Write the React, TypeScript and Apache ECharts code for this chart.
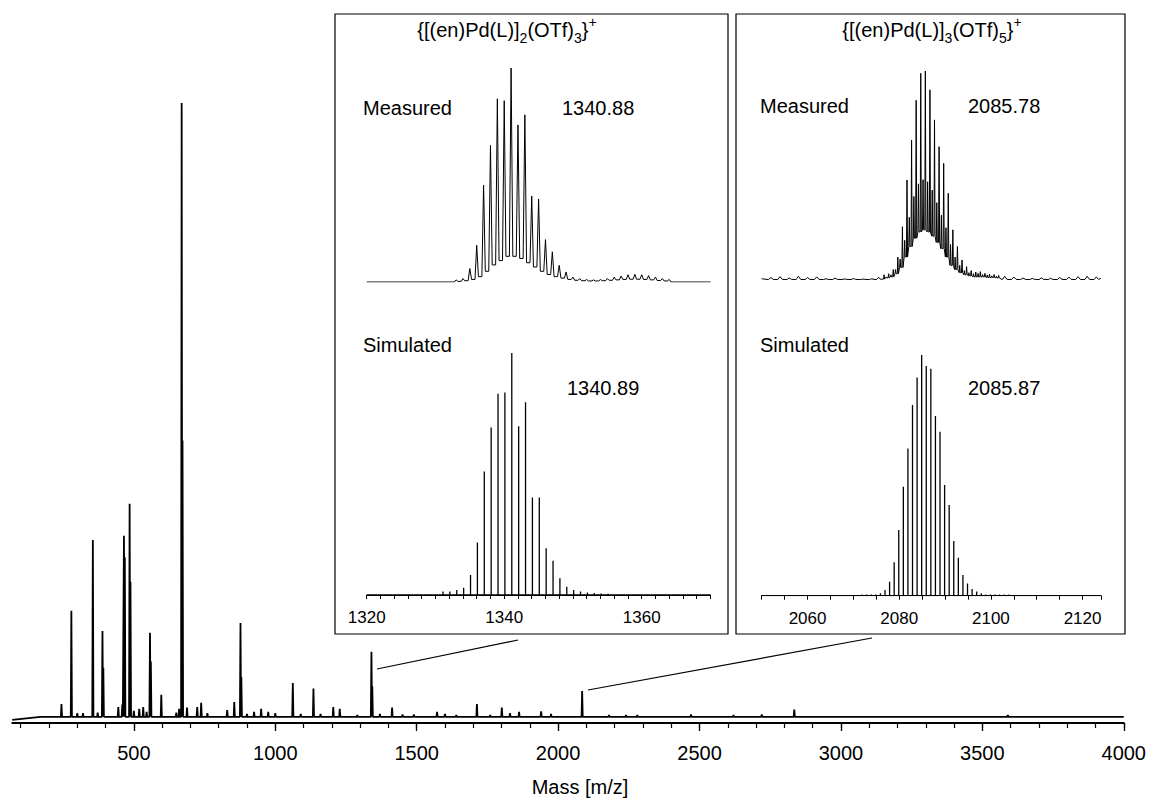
import React, { useEffect, useRef } from "react";
import * as echarts from "echarts";

const FONT = "'Liberation Sans', Arial, Helvetica, sans-serif";

// ---------- main spectrum (m/z, relative intensity) ----------
const MAIN_MASS = [
  244, 279, 300, 320, 355, 372, 389, 392, 445, 459, 465, 468, 485, 488, 500, 519, 533, 545, 557, 560,
  597, 650, 660, 669, 672, 688, 724, 738, 760, 830, 855, 877, 880, 900, 925, 950, 975, 1000, 1062, 1090,
  1135, 1160, 1205, 1228, 1290, 1340, 1343, 1370, 1413, 1450, 1490, 1572, 1600, 1640, 1713, 1760, 1801,
  1830, 1862, 1940, 1975, 2085, 2180, 2240, 2280, 2470, 2620, 2720, 2835, 3590,
];
const MAIN_INT = [
  2.1, 17.3, 0.6, 0.6, 28.8, 0.7, 14.0, 8, 1.6, 2.0, 29.5, 26, 34.7, 22, 1.0, 1.3, 1.6, 0.8, 13.7, 9,
  3.6, 0.7, 1.3, 100, 45, 1.5, 1.6, 2.3, 0.6, 1.1, 2.4, 15.3, 6.5, 0.5, 0.8, 1.3, 0.8, 0.6, 5.5, 0.5,
  4.6, 0.5, 1.6, 1.3, 0.3, 10.6, 5, 0.5, 1.5, 0.4, 0.4, 0.8, 0.5, 0.3, 2.1, 0.3, 1.5,
  0.6, 0.8, 0.9, 0.5, 4.2, 0.3, 0.3, 0.3, 0.4, 0.3, 0.4, 1.2, 0.3,
];
const MAIN_AXIS_LABELS = [500, 1000, 1500, 2000, 2500, 3000, 3500, 4000];
const MAIN_MINOR_TICKS = Array.from({ length: 40 }, (_, i) => (i + 1) * 100);

// ---------- inset 1 : {[(en)Pd(L)]2(OTf)3}+ ----------
const MEAS1_MASS = [
  1333, 1334, 1335, 1336, 1337, 1338, 1339, 1340, 1341, 1342, 1343, 1344, 1345, 1346, 1347, 1348,
  1349, 1350, 1351, 1352, 1353, 1354, 1355, 1356, 1357, 1358, 1359, 1360, 1361, 1362, 1363, 1364,
];
const MEAS1_INT = [
  1.0, 1.6, 6.3, 17.2, 45.3, 63.8, 85.6, 84.7, 100, 73.4, 78.1, 40.2, 38.8, 19.8, 14.1, 7.8,
  4.7, 2.3, 1.6, 1.2, 1.0, 1.2, 1.6, 2.3, 2.8, 3.4, 3.6, 3.4, 3.0, 2.3, 1.6, 1.2,
];
// valley level before each peak (last value = after the last peak)
const MEAS1_FLOOR = [
  0, 0.3, 0.6, 1.2, 2.5, 5, 8, 10, 12, 12, 11, 9, 7, 5, 3.5, 2.5, 1.8, 1.2, 0.8, 0.6, 0.5, 0.5,
  0.6, 0.8, 1.0, 1.2, 1.3, 1.3, 1.2, 1.0, 0.7, 0.5, 0,
];
const SIM1_MASS = [
  1331.1, 1332.1, 1333.1, 1334.1, 1335.1, 1336.1, 1337.1, 1338.1, 1339.1, 1340.1, 1341.1, 1342.1,
  1343.1, 1344.1, 1345.1, 1346.1, 1347.1, 1348.1, 1349.1, 1350.1, 1351.1, 1352.1, 1353.1, 1354.1, 1355.1,
];
const SIM1_INT = [
  1.4, 1.4, 2.1, 3.0, 8.3, 21.7, 51, 69.2, 83.2, 83.7, 100, 69.7,
  79.7, 40.3, 40.3, 19.3, 14.2, 6.9, 3.4, 2.1, 1.4, 1.0, 0.8, 0.6, 0.5,
];

// ---------- inset 2 : {[(en)Pd(L)]3(OTf)5}+ ----------
const MEAS2_MASS = [
  2076.7, 2077.7, 2078.7, 2079.7, 2080.7, 2081.7, 2082.7, 2083.7, 2084.7, 2085.7, 2086.7, 2087.7, 2088.7,
  2089.7, 2090.7, 2091.7, 2092.7, 2093.7, 2094.7, 2095.7, 2096.7, 2097.7, 2098.7, 2099.7, 2100.7, 2101.7,
];
const MEAS2_INT = [
  2.5, 3, 5, 11, 25.5, 47.8, 67, 86, 98.9, 100, 91, 76.6, 63.8,
  55.8, 41.5, 24, 16, 9.6, 6.4, 4.5, 3.8, 4, 3.2, 2.8, 2.6, 2.2,
];
const MEAS2_MID_MASS = [
  2077.2, 2078.2, 2079.2, 2080.2, 2081.2, 2082.2, 2083.2, 2084.2, 2085.2, 2086.2, 2087.2, 2088.2, 2089.2,
  2090.2, 2091.2, 2092.2, 2093.2, 2094.2, 2095.2, 2096.2, 2097.2, 2098.2, 2099.2, 2100.2, 2101.2,
];
const MEAS2_MID_INT = [
  1.5, 2.5, 5, 10, 19, 30, 40, 46, 48, 47, 43, 37, 31, 25, 17, 11, 7, 4.5, 3.5, 3, 3.2, 2.6, 2.4, 2, 1.8,
];
const MEAS2_FLOOR_START = 2076;
const MEAS2_FLOOR = [
  0.5, 1, 1.5, 3, 6, 11, 16, 20, 23, 24, 23, 21, 18, 15, 11, 7, 5, 3.5, 2.5, 2, 1.5, 1.5, 1.5, 1.2, 1.2, 1,
];
// small baseline ripples of the measured trace (m/z, level)
const MEAS2_BASE_MASS = [
  2052, 2054, 2056, 2058, 2060, 2062, 2064, 2066, 2068, 2070, 2072, 2074, 2075.5,
  2103, 2105, 2107, 2109, 2111, 2113, 2115, 2117, 2119, 2121, 2123,
];
const MEAS2_BASE_INT = [
  1.2, 1.6, 1.0, 1.8, 1.2, 1.5, 0.6, 0.9, 0.5, 0.7, 0.4, 0.6, 1.2,
  1.8, 1.4, 1.0, 0.8, 1.0, 0.8, 1.2, 1.4, 1.6, 1.8, 1.5,
];
const SIM2_MASS = [
  2071.9, 2072.9, 2073.9, 2074.9, 2075.9, 2076.9, 2077.9, 2078.9, 2079.9, 2080.9, 2081.9, 2082.9,
  2083.9, 2084.9, 2085.9, 2086.9, 2087.9, 2088.9, 2089.9, 2090.9, 2091.9, 2092.9, 2093.9, 2094.9,
  2095.9, 2096.9, 2097.9, 2098.9, 2099.9, 2100.9, 2101.9, 2102.9, 2103.9,
];
const SIM2_INT = [
  0.5, 0.5, 0.5, 0.5, 1, 2.4, 5.8, 13.9, 27.3, 45.3, 61.2, 79.2,
  90.7, 100, 95.4, 94.3, 74.7, 68.1, 46, 37.7, 22.7, 15.8, 8.6, 5.1,
  2.8, 1.7, 1.0, 0.5, 0.5, 0.5, 0.5, 0.5, 0.5,
];

// ---------- builders ----------
function mainTrace() {
  const d: number[][] = [[70, -0.5], [170, 0]];
  const hw = 2;
  MAIN_MASS.forEach((m, i) => {
    d.push([m - hw, 0], [m, MAIN_INT[i]], [m + hw, 0]);
  });
  d.push([4000, 0]);
  return d;
}
function measured1() {
  const d: number[][] = [[1320, 0]];
  const hw = 0.25;
  MEAS1_MASS.forEach((m, i) => {
    d.push([m - hw, MEAS1_FLOOR[i]], [m, MEAS1_INT[i]], [m + hw, MEAS1_FLOOR[i + 1]]);
  });
  d.push([1370, 0]);
  return d;
}
function measured2() {
  const spikes: number[][] = [];
  MEAS2_MASS.forEach((m, i) => spikes.push([m, MEAS2_INT[i], 1]));
  MEAS2_MID_MASS.forEach((m, i) => spikes.push([m, MEAS2_MID_INT[i], 1]));
  MEAS2_BASE_MASS.forEach((m, i) => spikes.push([m, MEAS2_BASE_INT[i], 0]));
  spikes.sort((a, b) => a[0] - b[0]);
  const d: number[][] = [[2050, 0.6]];
  spikes.forEach(([m, h, isIso]) => {
    if (isIso) {
      const f = MEAS2_FLOOR[Math.floor(m) - MEAS2_FLOOR_START] ?? 0;
      d.push([m - 0.12, f], [m, h], [m + 0.12, f]);
    } else {
      d.push([m - 0.5, 0.2], [m, h], [m + 0.5, 0.3]);
    }
  });
  d.push([2124, 0.8]);
  return d;
}
function sticks(mass: number[], inten: number[], min: number, max: number) {
  const d: number[][] = [[min, 0]];
  mass.forEach((m, i) => d.push([m, 0], [m, inten[i]], [m, 0]));
  d.push([max, 0]);
  return d;
}

const lineSeries = (data: number[][], xi: number, yi: number, w: number) => ({
  type: "line",
  xAxisIndex: xi,
  yAxisIndex: yi,
  data,
  showSymbol: false,
  symbol: "none",
  silent: true,
  lineStyle: { color: "#000", width: w },
});

const insetAxis = (gridIndex: number, min: number, max: number, interval: number) => ({
  gridIndex,
  type: "value",
  position: "bottom",
  min,
  max,
  interval,
  axisLine: { show: true, onZero: false, lineStyle: { color: "#000", width: 1.2 } },
  axisTick: { show: true, length: 4, lineStyle: { color: "#000", width: 1 } },
  axisLabel: {
    show: true,
    margin: 14,
    fontSize: 17,
    fontFamily: FONT,
    color: "#000",
    showMinLabel: true,
    showMaxLabel: true,
    formatter: (v: number) => (Math.round(v) % 20 === 0 ? String(Math.round(v)) : ""),
  },
  splitLine: { show: false },
});

const hiddenX = (gridIndex: number, min: number, max: number) => ({
  gridIndex, type: "value", min, max, show: false, splitLine: { show: false },
});
const hiddenY = (gridIndex: number, min: number, max: number) => ({
  gridIndex, type: "value", min, max, show: false, splitLine: { show: false },
});

const txt = (text: string, x: number, y: number, align = "left", size = 20) => ({
  type: "text",
  x,
  y,
  silent: true,
  style: { text, fontSize: size, fontFamily: FONT, fill: "#000", align, verticalAlign: "middle" },
});
const richTitle = (text: string, x: number, y: number) => ({
  type: "text",
  x,
  y,
  silent: true,
  style: {
    text,
    fontSize: 20,
    fontFamily: FONT,
    fill: "#000",
    align: "center",
    verticalAlign: "middle",
    lineHeight: 30,
    rich: {
      s: { fontSize: 14, fontFamily: FONT, fill: "#000", verticalAlign: "bottom", lineHeight: 14 },
      p: { fontSize: 14, fontFamily: FONT, fill: "#000", verticalAlign: "top", lineHeight: 14 },
    },
  },
});

export default function App() {
  const ref = useRef<HTMLDivElement>(null);
  useEffect(() => {
    if (!ref.current) return;
    const chart = echarts.init(ref.current, undefined, { renderer: "svg" });
    const option: any = {
      animation: false,
      backgroundColor: "#fff",
      grid: [
        { left: 12.25, top: 103, width: 1112.75, height: 620 },
        { left: 366.7, top: 68, width: 343.8, height: 214 },
        { left: 366.7, top: 353, width: 343.8, height: 242 },
        { left: 761.7, top: 71, width: 339.2, height: 209 },
        { left: 761.7, top: 355, width: 339.2, height: 240.7 },
      ],
      xAxis: [
        {
          gridIndex: 0,
          type: "value",
          position: "bottom",
          min: 70,
          max: 4000,
          axisLine: { show: true, onZero: false, lineStyle: { color: "#000", width: 2 } },
          axisTick: { show: true, customValues: MAIN_AXIS_LABELS, length: 8, lineStyle: { color: "#000", width: 1.3 } },
          axisLabel: {
            show: true,
            customValues: MAIN_AXIS_LABELS,
            margin: 20,
            fontSize: 20,
            fontFamily: FONT,
            color: "#000",
            formatter: (v: number) => String(Math.round(v)),
          },
          splitLine: { show: false },
        },
        {
          gridIndex: 0,
          type: "value",
          position: "bottom",
          offset: 0,
          min: 70,
          max: 4000,
          axisLine: { show: false, onZero: false },
          axisTick: { show: true, customValues: MAIN_MINOR_TICKS, length: 5, lineStyle: { color: "#000", width: 1.2 } },
          axisLabel: { show: false },
          splitLine: { show: false },
        },
        hiddenX(1, 1320, 1370),
        insetAxis(2, 1320, 1370, 2),
        hiddenX(3, 2050, 2124),
        insetAxis(4, 2050, 2124, 5),
      ],
      yAxis: [
        hiddenY(0, -1, 100),
        hiddenY(1, 0, 100),
        hiddenY(2, 0, 100),
        hiddenY(3, 0, 100),
        hiddenY(4, 0, 100),
      ],
      series: [
        lineSeries(mainTrace(), 0, 0, 1.8),
        lineSeries(measured1(), 2, 1, 1),
        lineSeries(sticks(SIM1_MASS, SIM1_INT, 1320, 1370), 3, 2, 1.3),
        lineSeries(measured2(), 4, 3, 1),
        lineSeries(sticks(SIM2_MASS, SIM2_INT, 2050, 2124), 5, 4, 1.3),
      ],
      graphic: [
        { type: "rect", silent: true, shape: { x: 335, y: 14, width: 393, height: 620 }, style: { fill: "none", stroke: "#000", lineWidth: 1.2 } },
        { type: "rect", silent: true, shape: { x: 736, y: 14, width: 389, height: 620 }, style: { fill: "none", stroke: "#000", lineWidth: 1.2 } },
        { type: "line", silent: true, shape: { x1: 377, y1: 669, x2: 518, y2: 640 }, style: { stroke: "#000", lineWidth: 1.2 } },
        { type: "line", silent: true, shape: { x1: 588, y1: 690, x2: 872, y2: 638 }, style: { stroke: "#000", lineWidth: 1.2 } },
        richTitle("{[(en)Pd(L)]{s|2}(OTf){s|3}}{p|+}", 507, 30),
        richTitle("{[(en)Pd(L)]{s|3}(OTf){s|5}}{p|+}", 932, 30),
        txt("Measured", 363, 108),
        txt("1340.88", 562, 108),
        txt("Simulated", 363, 345),
        txt("1340.89", 567, 388),
        txt("Measured", 760, 106),
        txt("2085.78", 968, 106),
        txt("Simulated", 760, 345),
        txt("2085.87", 968, 388),
        txt("Mass [m/z]", 580, 787, "center"),
      ],
    };
    chart.setOption(option);
    return () => chart.dispose();
  }, []);
  return (
    <div
      ref={ref}
      style={{ position: "absolute", left: 0, top: 0, width: 1149, height: 800, background: "#fff" }}
    />
  );
}
